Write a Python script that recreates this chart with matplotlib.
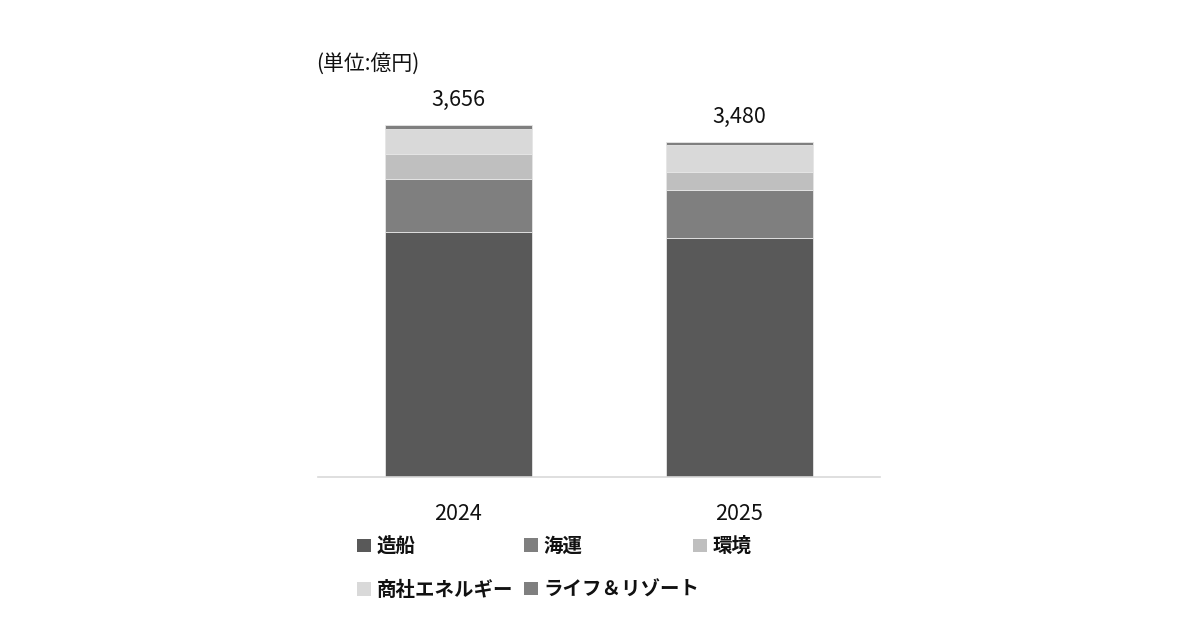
import matplotlib.pyplot as plt
from matplotlib.patches import Patch
import numpy as np

plt.rcParams['font.family'] = ['Noto Sans CJK JP', 'DejaVu Sans']

years = ['2024', '2025']
segments = ['造船', '海運', '環境', '商社エネルギー', 'ライフ＆リゾート']
values = {
    '造船': [2541, 2485],
    '海運': [550, 495],
    '環境': [260, 184],
    '商社エネルギー': [260, 280],
    'ライフ＆リゾート': [45, 36],
}
totals = [3656, 3480]
colors = ['#595959', '#7f7f7f', '#bfbfbf', '#d9d9d9', '#7f7f7f']

fig = plt.figure(figsize=(12, 6.3), dpi=100)
ax = fig.add_axes([0.265, 0.243, 0.468, 0.598])

x = np.arange(len(years))
bottom = np.zeros(len(years))
for seg, col in zip(segments, colors):
    v = np.array(values[seg])
    ax.bar(x, v, 0.524, bottom=bottom, color=col, edgecolor='#e6e6e6', linewidth=0.6)
    bottom += v

for xi, t in zip(x, totals):
    ax.text(xi, t + 150, f'{t:,}', ha='center', va='bottom', fontsize=15.5, color='#111111')

ax.set_xlim(-0.5, 1.5)
ax.set_ylim(0, 3915)
ax.set_xticks(x)
ax.set_xticklabels(years, fontsize=15.5, color='#111111')
ax.tick_params(axis='x', length=0, pad=19)
ax.set_yticks([])
for s in ['top', 'right', 'left']:
    ax.spines[s].set_visible(False)
ax.spines['bottom'].set_color('#d9d9d9')
ax.spines['bottom'].set_linewidth(1.2)

fig.text(316 / 1200, 1 - 64 / 630, '(単位:億円)', fontsize=15, va='center', ha='left', color='#111111')

# legend, laid out in three columns like the source
cols = [[0, 3], [1, 4], [2]]
xpos = [357, 524, 693]
for idx, xp in zip(cols, xpos):
    handles = [Patch(facecolor=colors[i], edgecolor='none') for i in idx]
    labels = [segments[i] for i in idx]
    leg = fig.legend(handles, labels, loc='upper left',
                     bbox_to_anchor=(xp / 1200, 1 - 537 / 630),
                     frameon=False, fontsize=14, handlelength=0.7, handleheight=0.7,
                     handletextpad=0.3, labelspacing=1.25, borderpad=0, borderaxespad=0)
    for t in leg.get_texts():
        t.set_fontweight('bold')
        t.set_color('#111111')

fig.savefig('out.png', dpi=100, facecolor='white')
